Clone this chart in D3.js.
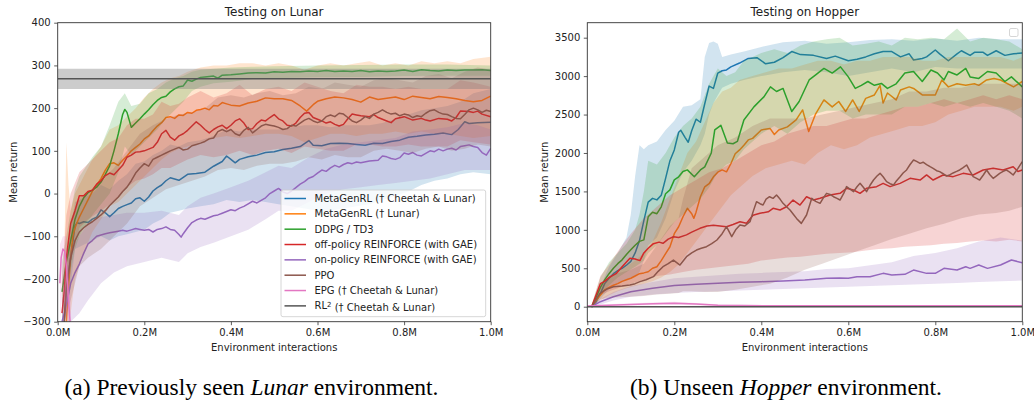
<!DOCTYPE html>
<html>
<head>
<meta charset="utf-8">
<script src="https://cdn.jsdelivr.net/npm/d3@7"></script>
<style>
body { margin: 0; background: #fff; }
svg text { font-family: "DejaVu Sans", sans-serif; fill: #222; }
svg text.caption { font-family: "Liberation Serif", serif; fill: #000; }
</style>
</head>
<body>
<svg id="chart" width="1034" height="402"></svg>
<script>
// legend + colours (matplotlib tab10 order)
var seriesNames = ['MetaGenRL († Cheetah & Lunar)', 'MetaGenRL († Lunar)', 'DDPG / TD3',
  'off-policy REINFORCE (with GAE)', 'on-policy REINFORCE (with GAE)', 'PPO', 'EPG († Cheetah & Lunar)', 'RL2'];
var seriesColors = ['#1f77b4', '#ff7f0e', '#2ca02c', '#d62728', '#9467bd', '#8c564b', '#e377c2', '#555555'];

var xTicks = [0, 0.2, 0.4, 0.6, 0.8, 1.0];
var lunarYTicks = [-300, -200, -100, 0, 100, 200, 300, 400];
var hopperYTicks = [0, 500, 1000, 1500, 2000, 2500, 3000, 3500];

// ---------- Testing on Lunar : [x (M), mean] and [x, low, high] ----------
var lunarBlue = [[0.015,-300],[0.02,-230],[0.03,-150],[0.04,-75],[0.045,-68],[0.05,-70],[0.06,-66],[0.07,-68],[0.08,-60],[0.09,-55],[0.10,-38],[0.11,-45],[0.12,-54],[0.13,-45],[0.14,-35],[0.15,-30],[0.16,-26],[0.17,-22],[0.18,-12],[0.19,-10],[0.20,-18],[0.21,-8],[0.22,6],[0.23,14],[0.24,20],[0.25,30],[0.26,37],[0.27,34],[0.28,31],[0.29,38],[0.30,45],[0.32,47],[0.34,50],[0.36,64],[0.38,75],[0.39,88],[0.40,80],[0.41,72],[0.42,80],[0.44,86],[0.46,90],[0.48,96],[0.50,98],[0.52,103],[0.54,106],[0.56,110],[0.58,124],[0.59,113],[0.61,112],[0.63,117],[0.65,118],[0.67,117],[0.69,115],[0.71,113],[0.73,118],[0.75,117],[0.77,122],[0.79,125],[0.81,132],[0.83,134],[0.85,137],[0.87,139],[0.89,142],[0.91,138],[0.925,150],[0.94,168],[0.95,164],[0.97,166],[1.0,167]];
var lunarBlueBand = [[0.02,-300,-150],[0.04,-130,-20],[0.06,-120,-10],[0.08,-110,0],[0.10,-100,20],[0.12,-110,10],[0.14,-100,30],[0.16,-95,45],[0.18,-90,70],[0.20,-85,75],[0.22,-70,90],[0.24,-60,100],[0.26,-45,115],[0.28,-40,110],[0.30,-35,120],[0.33,-30,125],[0.36,-25,135],[0.39,-15,150],[0.42,-20,145],[0.45,-15,150],[0.48,-20,150],[0.51,-25,150],[0.54,-30,155],[0.57,-35,160],[0.60,-40,160],[0.63,-40,155],[0.66,-35,160],[0.69,-30,160],[0.72,-25,160],[0.75,-15,165],[0.78,-5,175],[0.81,5,185],[0.84,20,195],[0.87,30,200],[0.90,35,205],[0.93,45,215],[0.96,50,235],[1.0,45,245]];

var lunarOrange = [[0.02,-300],[0.025,-220],[0.03,-150],[0.035,-100],[0.04,-80],[0.05,-55],[0.06,-35],[0.07,-15],[0.08,5],[0.09,20],[0.10,35],[0.11,55],[0.12,70],[0.13,72],[0.14,66],[0.15,78],[0.16,88],[0.17,100],[0.18,108],[0.19,116],[0.20,128],[0.21,135],[0.22,147],[0.23,158],[0.24,166],[0.25,178],[0.26,180],[0.27,176],[0.28,184],[0.29,183],[0.30,190],[0.31,188],[0.32,195],[0.33,197],[0.34,200],[0.35,196],[0.36,206],[0.37,205],[0.38,213],[0.39,210],[0.40,207],[0.42,205],[0.44,212],[0.46,216],[0.48,224],[0.50,222],[0.52,222],[0.54,218],[0.56,205],[0.575,193],[0.59,208],[0.60,216],[0.62,222],[0.64,226],[0.66,224],[0.68,220],[0.70,214],[0.72,226],[0.74,220],[0.76,223],[0.78,226],[0.80,220],[0.82,228],[0.84,225],[0.86,222],[0.88,227],[0.90,225],[0.92,222],[0.94,218],[0.96,215],[0.98,218],[1.0,228]];
var lunarOrangeBand = [[0.015,-300,-150],[0.02,-300,120],[0.025,-300,20],[0.03,-280,-40],[0.04,-200,0],[0.06,-140,40],[0.08,-90,80],[0.10,-60,110],[0.12,-30,150],[0.14,-20,160],[0.16,0,180],[0.18,20,200],[0.20,40,225],[0.22,60,245],[0.24,80,260],[0.26,95,270],[0.28,105,275],[0.30,110,285],[0.33,120,295],[0.36,130,300],[0.39,135,300],[0.42,130,305],[0.45,135,305],[0.48,140,300],[0.51,140,305],[0.54,135,300],[0.57,120,290],[0.60,130,300],[0.63,140,305],[0.66,140,300],[0.69,135,305],[0.72,140,310],[0.75,140,300],[0.78,145,305],[0.81,140,300],[0.84,145,310],[0.87,140,305],[0.90,140,310],[0.93,135,305],[0.96,130,315],[1.0,135,320]];

var lunarGreen = [[0.01,-230],[0.02,-160],[0.03,-110],[0.04,-60],[0.05,-30],[0.06,-10],[0.07,2],[0.08,8],[0.09,15],[0.10,27],[0.11,45],[0.12,65],[0.13,100],[0.14,140],[0.15,185],[0.155,197],[0.16,190],[0.17,155],[0.18,165],[0.19,175],[0.20,186],[0.21,196],[0.22,208],[0.23,218],[0.24,225],[0.25,228],[0.26,238],[0.27,245],[0.28,250],[0.29,252],[0.30,266],[0.31,263],[0.32,268],[0.33,272],[0.34,273],[0.36,275],[0.37,270],[0.38,277],[0.40,278],[0.42,280],[0.44,282],[0.46,283],[0.48,282],[0.50,285],[0.52,284],[0.54,286],[0.56,285],[0.58,287],[0.60,286],[0.62,288],[0.64,286],[0.66,287],[0.68,286],[0.70,288],[0.72,285],[0.74,287],[0.76,286],[0.78,287],[0.80,289],[0.82,286],[0.84,290],[0.86,288],[0.88,287],[0.90,289],[0.92,288],[0.94,289],[0.96,289],[0.98,290],[1.0,288]];
var lunarGreenBand = [[0.01,-300,-160],[0.02,-240,-100],[0.03,-180,-40],[0.04,-130,10],[0.05,-100,40],[0.06,-80,55],[0.08,-50,85],[0.10,-25,110],[0.12,0,160],[0.14,50,215],[0.155,110,235],[0.17,90,205],[0.19,110,210],[0.21,130,235],[0.23,150,245],[0.25,175,260],[0.27,195,270],[0.29,215,275],[0.31,240,285],[0.33,250,290],[0.36,258,292],[0.40,262,295],[0.45,268,297],[0.50,270,298],[0.60,272,300],[0.70,273,301],[0.80,275,302],[0.90,276,302],[1.0,276,300]];

var lunarRed = [[0.01,-280],[0.015,-230],[0.02,-150],[0.025,-110],[0.03,-70],[0.04,-40],[0.05,-5],[0.06,-5],[0.07,5],[0.08,8],[0.09,22],[0.10,30],[0.11,42],[0.12,48],[0.13,44],[0.14,55],[0.15,66],[0.16,85],[0.17,90],[0.18,97],[0.19,98],[0.20,100],[0.21,104],[0.22,108],[0.23,120],[0.24,140],[0.25,148],[0.26,132],[0.27,125],[0.28,135],[0.29,140],[0.30,148],[0.31,158],[0.32,168],[0.33,160],[0.34,150],[0.35,142],[0.36,150],[0.37,156],[0.38,160],[0.39,152],[0.40,160],[0.41,170],[0.42,175],[0.43,165],[0.44,150],[0.45,152],[0.46,164],[0.47,172],[0.48,170],[0.49,178],[0.50,185],[0.51,175],[0.52,170],[0.53,160],[0.54,158],[0.55,165],[0.56,178],[0.57,188],[0.58,190],[0.59,178],[0.60,174],[0.61,170],[0.62,165],[0.63,168],[0.64,162],[0.65,158],[0.66,162],[0.67,175],[0.68,186],[0.69,184],[0.70,182],[0.72,180],[0.73,185],[0.74,178],[0.76,170],[0.77,166],[0.78,175],[0.80,180],[0.81,176],[0.82,172],[0.84,176],[0.85,172],[0.86,170],[0.88,176],[0.90,174],[0.91,170],[0.92,178],[0.93,193],[0.95,192],[0.96,190],[0.97,193],[0.98,186],[1.0,180]];
var lunarRedBand = [[0.01,-300,-200],[0.02,-250,-50],[0.03,-160,0],[0.05,-80,50],[0.07,-60,70],[0.10,-40,100],[0.12,-25,120],[0.14,-10,130],[0.16,15,160],[0.18,30,175],[0.20,35,175],[0.22,45,185],[0.24,60,215],[0.26,60,205],[0.28,70,210],[0.30,80,225],[0.33,90,240],[0.36,85,225],[0.39,90,235],[0.42,100,255],[0.45,90,230],[0.48,100,245],[0.51,105,250],[0.54,95,240],[0.57,110,260],[0.60,105,250],[0.63,100,240],[0.66,100,235],[0.69,115,255],[0.72,115,250],[0.75,110,250],[0.78,110,245],[0.81,115,250],[0.84,110,245],[0.87,110,245],[0.90,110,245],[0.93,125,265],[0.96,120,260],[1.0,115,250]];

var lunarPurple = [[0.01,-300],[0.02,-260],[0.03,-210],[0.04,-185],[0.05,-165],[0.06,-140],[0.07,-118],[0.08,-110],[0.09,-100],[0.10,-97],[0.11,-94],[0.12,-92],[0.13,-90],[0.14,-88],[0.15,-86],[0.16,-88],[0.17,-85],[0.18,-82],[0.19,-84],[0.20,-86],[0.21,-84],[0.22,-90],[0.23,-84],[0.24,-82],[0.25,-78],[0.26,-84],[0.27,-86],[0.28,-96],[0.285,-102],[0.29,-94],[0.30,-80],[0.31,-68],[0.32,-62],[0.33,-58],[0.34,-60],[0.35,-56],[0.36,-52],[0.37,-50],[0.38,-46],[0.39,-42],[0.40,-38],[0.41,-40],[0.42,-34],[0.43,-30],[0.44,-24],[0.45,-18],[0.46,-22],[0.47,-16],[0.48,-10],[0.49,0],[0.50,6],[0.51,12],[0.52,4],[0.53,0],[0.54,6],[0.55,14],[0.56,22],[0.57,28],[0.58,36],[0.59,40],[0.60,48],[0.61,55],[0.62,52],[0.63,60],[0.64,66],[0.65,62],[0.66,68],[0.67,72],[0.68,70],[0.69,74],[0.70,72],[0.72,76],[0.74,78],[0.75,88],[0.76,86],[0.77,82],[0.78,80],[0.79,84],[0.80,95],[0.81,92],[0.82,96],[0.83,90],[0.84,88],[0.85,94],[0.86,100],[0.87,98],[0.88,104],[0.89,100],[0.90,104],[0.91,106],[0.92,102],[0.93,110],[0.94,112],[0.95,114],[0.96,110],[0.97,108],[0.98,96],[0.99,90],[1.0,106]];
var lunarPurpleBand = [[0.01,-300,-250],[0.03,-300,-130],[0.05,-280,-100],[0.07,-250,-70],[0.10,-210,-55],[0.13,-185,-50],[0.16,-170,-45],[0.20,-160,-45],[0.24,-150,-40],[0.28,-160,-50],[0.30,-140,-30],[0.33,-125,-10],[0.36,-115,0],[0.40,-100,15],[0.44,-85,30],[0.48,-60,50],[0.51,-40,65],[0.54,-40,60],[0.58,-20,85],[0.62,0,105],[0.66,10,115],[0.70,15,120],[0.74,20,125],[0.78,25,130],[0.82,30,145],[0.86,35,150],[0.90,45,155],[0.94,55,165],[0.97,55,160],[1.0,55,150]];

var lunarBrown = [[0.015,-300],[0.02,-220],[0.03,-150],[0.04,-110],[0.05,-90],[0.06,-80],[0.07,-72],[0.08,-66],[0.09,-58],[0.10,-50],[0.11,-40],[0.12,-28],[0.13,-18],[0.14,-8],[0.15,5],[0.16,15],[0.17,30],[0.18,48],[0.19,60],[0.20,70],[0.21,64],[0.22,80],[0.23,85],[0.24,90],[0.25,95],[0.26,100],[0.27,104],[0.28,108],[0.29,102],[0.30,104],[0.31,112],[0.32,115],[0.33,118],[0.34,122],[0.35,128],[0.36,130],[0.37,145],[0.38,150],[0.39,145],[0.40,150],[0.41,140],[0.42,136],[0.43,148],[0.44,155],[0.45,142],[0.46,150],[0.47,158],[0.48,162],[0.49,160],[0.50,158],[0.51,155],[0.52,150],[0.53,152],[0.54,160],[0.55,158],[0.56,165],[0.57,172],[0.58,176],[0.59,170],[0.60,166],[0.61,170],[0.62,180],[0.63,184],[0.64,180],[0.65,188],[0.66,186],[0.67,178],[0.68,170],[0.69,166],[0.70,172],[0.71,180],[0.72,176],[0.73,186],[0.74,190],[0.75,196],[0.76,190],[0.77,186],[0.78,188],[0.79,182],[0.80,186],[0.81,184],[0.82,178],[0.83,182],[0.84,180],[0.85,188],[0.86,194],[0.87,196],[0.88,190],[0.89,186],[0.90,185],[0.91,180],[0.92,176],[0.93,175],[0.94,185],[0.95,196],[0.96,200],[0.97,196],[0.98,190],[0.99,195],[1.0,192]];
var lunarBrownBand = [[0.015,-300,-200],[0.03,-250,-60],[0.05,-170,-10],[0.07,-150,0],[0.10,-130,30],[0.13,-100,60],[0.16,-70,100],[0.19,-30,140],[0.22,-10,160],[0.25,10,175],[0.28,20,185],[0.31,30,190],[0.34,40,200],[0.37,55,225],[0.40,60,230],[0.43,55,225],[0.46,65,235],[0.49,70,240],[0.52,70,230],[0.55,75,235],[0.58,85,250],[0.61,80,245],[0.64,90,260],[0.67,85,255],[0.70,85,250],[0.73,100,265],[0.76,105,270],[0.79,100,265],[0.82,95,260],[0.85,105,275],[0.88,110,280],[0.91,100,270],[0.94,105,285],[0.97,115,295],[1.0,110,290]];

var lunarPink = [[0.005,-210],[0.008,-150],[0.012,-130],[0.016,-135],[0.02,-170],[0.025,-250],[0.03,-320]];
var lunarPinkBand = [[0.005,-300,-120],[0.012,-220,-100],[0.02,-280,-100],[0.03,-340,-250]];

var lunarRL2 = [[0,269],[1.0,269]];
var lunarRL2Band = [[0,245,292],[1.0,245,292]];

// ---------- Testing on Hopper ----------
var hopperBlue = [[0.01,0],[0.02,60],[0.03,170],[0.04,300],[0.05,370],[0.06,430],[0.07,470],[0.08,500],[0.09,540],[0.10,590],[0.11,700],[0.12,860],[0.13,1120],[0.14,1360],[0.15,1410],[0.16,1390],[0.17,1450],[0.18,1670],[0.19,1900],[0.20,2040],[0.21,2270],[0.215,2295],[0.225,2200],[0.232,2140],[0.24,2290],[0.25,2440],[0.26,2400],[0.27,2640],[0.28,2870],[0.29,2840],[0.30,3040],[0.31,3070],[0.32,3080],[0.33,3120],[0.35,3170],[0.37,3230],[0.39,3240],[0.41,3160],[0.43,3180],[0.45,3240],[0.47,3320],[0.49,3280],[0.52,3270],[0.55,3230],[0.57,3260],[0.60,3200],[0.62,3220],[0.64,3250],[0.66,3290],[0.68,3320],[0.70,3320],[0.72,3250],[0.74,3290],[0.75,3210],[0.77,3230],[0.78,3250],[0.80,3340],[0.81,3290],[0.83,3200],[0.85,3290],[0.86,3330],[0.88,3270],[0.89,3310],[0.91,3310],[0.92,3270],[0.94,3330],[0.96,3270],[0.98,3290],[1.0,3300]];
var hopperBlueBand = [[0.01,-20,20],[0.03,100,260],[0.05,230,520],[0.07,300,700],[0.09,350,900],[0.10,380,1200],[0.11,400,1700],[0.12,450,2100],[0.13,600,2050],[0.14,800,2100],[0.16,900,2150],[0.18,1150,2300],[0.20,1500,2420],[0.22,1750,2600],[0.24,1900,2620],[0.26,2100,2700],[0.27,2250,3250],[0.28,2500,3430],[0.29,2650,3450],[0.30,2750,3420],[0.31,2850,3250],[0.33,2900,3280],[0.36,2950,3320],[0.40,3000,3380],[0.45,3050,3440],[0.50,3080,3460],[0.55,3050,3420],[0.60,3000,3440],[0.65,3050,3470],[0.70,3100,3480],[0.75,3050,3460],[0.80,3120,3490],[0.85,3100,3460],[0.90,3100,3500],[0.95,3100,3480],[1.0,3100,3480]];

var hopperOrange = [[0.01,0],[0.02,80],[0.03,150],[0.04,220],[0.05,250],[0.06,280],[0.07,300],[0.08,330],[0.09,350],[0.10,370],[0.11,400],[0.12,430],[0.13,440],[0.14,455],[0.15,500],[0.16,520],[0.17,600],[0.18,690],[0.19,780],[0.20,950],[0.21,1040],[0.22,1170],[0.23,1280],[0.24,1210],[0.245,1150],[0.25,1230],[0.26,1430],[0.27,1560],[0.28,1600],[0.29,1690],[0.30,1750],[0.31,1780],[0.32,1755],[0.33,1860],[0.34,1990],[0.35,2040],[0.36,2100],[0.37,2170],[0.38,2190],[0.40,2300],[0.42,2320],[0.43,2240],[0.44,2300],[0.46,2340],[0.48,2430],[0.495,2560],[0.509,2280],[0.525,2510],[0.544,2690],[0.563,2600],[0.578,2670],[0.594,2540],[0.61,2690],[0.625,2540],[0.64,2710],[0.66,2755],[0.673,2880],[0.68,2650],[0.69,2780],[0.71,2690],[0.72,2820],[0.74,2860],[0.75,2840],[0.77,2755],[0.80,2755],[0.815,2950],[0.83,2860],[0.85,2900],[0.87,2880],[0.89,2900],[0.90,2880],[0.918,2950],[0.935,2970],[0.95,2950],[0.98,2860],[1.0,2930]];
var hopperOrangeBand = [[0.01,-20,20],[0.03,80,250],[0.05,150,380],[0.07,200,450],[0.09,240,520],[0.11,270,600],[0.13,300,700],[0.15,330,850],[0.17,380,1100],[0.19,450,1400],[0.21,550,1700],[0.23,700,2000],[0.25,850,2150],[0.27,1000,2400],[0.29,1150,2650],[0.31,1300,2800],[0.33,1450,2850],[0.35,1550,2950],[0.38,1700,3000],[0.41,1800,3050],[0.44,1850,3100],[0.47,1900,3100],[0.50,1850,3150],[0.53,2000,3200],[0.56,2100,3200],[0.59,2050,3150],[0.62,2100,3200],[0.65,2200,3200],[0.68,2250,3250],[0.71,2300,3250],[0.74,2350,3250],[0.77,2350,3200],[0.80,2400,3200],[0.83,2500,3250],[0.86,2550,3250],[0.89,2600,3250],[0.92,2600,3250],[0.95,2600,3250],[0.98,2550,3200],[1.0,2600,3250]];

var hopperGreen = [[0.01,0],[0.02,120],[0.03,250],[0.04,350],[0.05,430],[0.06,500],[0.07,560],[0.08,610],[0.09,680],[0.10,740],[0.11,800],[0.12,850],[0.13,870],[0.14,1170],[0.15,1230],[0.16,1210],[0.17,1300],[0.18,1470],[0.19,1520],[0.20,1650],[0.21,1690],[0.22,1760],[0.23,1780],[0.246,1690],[0.26,1780],[0.27,1820],[0.285,2000],[0.293,2300],[0.307,2360],[0.322,2130],[0.335,2120],[0.345,2150],[0.36,2430],[0.383,2600],[0.406,2730],[0.421,2860],[0.435,2800],[0.45,2840],[0.47,2540],[0.487,2670],[0.51,2950],[0.525,3015],[0.544,3100],[0.563,3040],[0.582,3120],[0.60,2990],[0.616,2840],[0.63,2880],[0.645,2930],[0.66,2880],[0.676,2905],[0.69,2840],[0.71,2900],[0.73,3040],[0.75,3060],[0.77,2930],[0.79,3080],[0.805,3040],[0.82,2950],[0.83,3060],[0.85,3015],[0.87,3100],[0.88,2990],[0.90,2970],[0.92,3060],[0.94,3040],[0.96,2930],[0.975,2990],[1.0,2860]];
var hopperGreenBand = [[0.01,-20,30],[0.03,150,380],[0.05,280,580],[0.07,380,700],[0.09,450,820],[0.11,520,1000],[0.12,560,1200],[0.13,600,1500],[0.14,700,1900],[0.16,800,1850],[0.18,950,2000],[0.20,1100,2200],[0.22,1200,2350],[0.24,1300,2450],[0.26,1400,2600],[0.28,1550,2900],[0.30,1750,3100],[0.32,1850,3000],[0.34,1900,3050],[0.36,2050,3200],[0.38,2150,3250],[0.40,2250,3300],[0.43,2350,3350],[0.46,2250,3300],[0.49,2400,3400],[0.52,2500,3450],[0.55,2550,3480],[0.58,2550,3500],[0.61,2450,3400],[0.64,2500,3420],[0.67,2500,3450],[0.70,2500,3400],[0.73,2600,3500],[0.76,2600,3480],[0.79,2650,3500],[0.82,2600,3480],[0.85,2650,3620],[0.88,2600,3450],[0.91,2650,3500],[0.94,2600,3480],[0.97,2550,3450],[1.0,2450,3350]];

var hopperRed = [[0.01,0],[0.02,150],[0.03,300],[0.04,330],[0.05,380],[0.067,434],[0.08,520],[0.098,630],[0.11,620],[0.121,600],[0.13,700],[0.14,760],[0.152,820],[0.165,840],[0.174,825],[0.186,880],[0.198,910],[0.21,900],[0.228,935],[0.24,970],[0.259,1020],[0.275,1050],[0.29,1060],[0.305,1050],[0.32,1040],[0.335,1070],[0.351,1105],[0.366,1085],[0.381,1190],[0.397,1215],[0.416,1235],[0.427,1280],[0.443,1258],[0.458,1300],[0.473,1388],[0.489,1323],[0.504,1430],[0.52,1388],[0.535,1410],[0.558,1453],[0.581,1475],[0.596,1540],[0.612,1518],[0.627,1475],[0.642,1540],[0.665,1562],[0.68,1605],[0.696,1562],[0.719,1605],[0.742,1670],[0.765,1648],[0.78,1714],[0.795,1648],[0.818,1714],[0.841,1692],[0.864,1735],[0.887,1714],[0.91,1779],[0.933,1800],[0.956,1779],[0.979,1822],[0.99,1760],[1.0,1779]];
var hopperRedBand = [[0.01,-20,20],[0.03,150,400],[0.05,200,550],[0.08,260,800],[0.10,300,950],[0.13,350,1150],[0.16,400,1300],[0.19,420,1450],[0.22,450,1550],[0.25,480,1650],[0.28,500,1750],[0.31,520,1800],[0.34,540,1900],[0.37,560,2000],[0.40,600,2100],[0.43,620,2150],[0.46,640,2250],[0.49,650,2300],[0.52,670,2350],[0.55,690,2350],[0.58,700,2400],[0.61,710,2450],[0.64,730,2450],[0.67,750,2500],[0.70,760,2550],[0.73,780,2600],[0.76,790,2600],[0.79,800,2650],[0.82,820,2700],[0.85,830,2650],[0.88,850,2700],[0.91,860,2750],[0.94,850,2700],[0.97,870,2750],[1.0,850,2700]];

var hopperPurple = [[0.01,0],[0.03,65],[0.06,130],[0.10,195],[0.15,240],[0.20,275],[0.25,292],[0.30,304],[0.35,317],[0.40,326],[0.45,334],[0.50,347],[0.53,360],[0.55,369],[0.58,372],[0.60,369],[0.62,391],[0.65,391],[0.68,434],[0.70,412],[0.73,421],[0.75,477],[0.78,434],[0.80,434],[0.82,499],[0.85,477],[0.87,520],[0.88,499],[0.90,542],[0.92,499],[0.95,542],[0.975,607],[1.0,573]];
var hopperPurpleBand = [[0.01,-10,10],[0.03,30,100],[0.06,80,190],[0.10,130,270],[0.15,160,320],[0.20,180,370],[0.25,190,390],[0.30,200,410],[0.35,210,430],[0.40,220,440],[0.45,230,450],[0.50,240,460],[0.55,250,490],[0.60,260,500],[0.65,270,540],[0.70,280,580],[0.75,290,660],[0.80,300,700],[0.85,310,760],[0.90,320,850],[0.95,330,900],[1.0,340,860]];

var hopperBrown = [[0.01,0],[0.029,174],[0.045,230],[0.06,260],[0.08,270],[0.098,282],[0.11,300],[0.121,326],[0.135,350],[0.152,391],[0.163,460],[0.174,521],[0.186,560],[0.198,607],[0.213,542],[0.228,651],[0.24,700],[0.251,737],[0.262,760],[0.274,781],[0.286,820],[0.298,868],[0.31,950],[0.32,1041],[0.332,911],[0.341,1000],[0.351,1062],[0.362,1050],[0.374,1106],[0.382,1250],[0.389,1366],[0.397,1340],[0.404,1323],[0.411,1400],[0.419,1431],[0.427,1410],[0.435,1453],[0.443,1400],[0.45,1345],[0.458,1300],[0.466,1258],[0.474,1200],[0.481,1149],[0.492,1084],[0.504,1193],[0.516,1410],[0.525,1370],[0.535,1345],[0.543,1420],[0.55,1475],[0.558,1460],[0.566,1431],[0.574,1410],[0.581,1388],[0.59,1480],[0.596,1562],[0.604,1530],[0.612,1497],[0.62,1560],[0.627,1605],[0.635,1550],[0.642,1497],[0.65,1580],[0.658,1648],[0.666,1700],[0.673,1735],[0.68,1690],[0.688,1627],[0.696,1600],[0.704,1583],[0.711,1640],[0.719,1692],[0.726,1740],[0.734,1779],[0.742,1850],[0.75,1909],[0.757,1890],[0.765,1865],[0.772,1880],[0.78,1850],[0.788,1822],[0.795,1800],[0.803,1770],[0.81,1757],[0.818,1730],[0.826,1700],[0.833,1714],[0.841,1740],[0.849,1760],[0.856,1779],[0.864,1810],[0.872,1844],[0.879,1770],[0.887,1692],[0.895,1670],[0.902,1648],[0.91,1710],[0.918,1779],[0.925,1720],[0.933,1670],[0.94,1700],[0.948,1735],[0.956,1760],[0.963,1779],[0.971,1750],[0.979,1714],[0.99,1800],[1.0,1887]];
var hopperBrownBand = [[0.01,-20,20],[0.03,100,280],[0.06,120,420],[0.10,130,480],[0.13,140,560],[0.16,160,800],[0.19,170,1050],[0.21,180,1150],[0.22,200,1400],[0.24,200,1800],[0.27,190,1950],[0.30,190,2100],[0.34,220,2200],[0.38,260,2350],[0.42,300,2450],[0.46,380,2450],[0.50,480,2450],[0.54,560,2500],[0.58,640,2550],[0.62,720,2600],[0.66,800,2650],[0.70,880,2700],[0.74,950,2800],[0.78,1020,2800],[0.82,1080,2850],[0.86,1150,2850],[0.90,1200,2900],[0.94,1220,2900],[0.97,1250,2900],[1.0,1300,2900]];

var hopperPink = [[0.0,10],[0.05,20],[0.10,30],[0.15,38],[0.20,45],[0.25,35],[0.30,20],[0.35,15],[0.45,12],[0.6,12],[0.8,12],[1.0,12]];
var hopperPinkBand = [[0.0,0,20],[0.10,15,45],[0.20,25,65],[0.30,8,32],[0.45,4,20],[1.0,4,20]];

var hopperRL2 = [[0,0],[1.0,0]];
var hopperRL2Band = [[0,-6,6],[1.0,-6,6]];

var svg = d3.select('#chart');

var area = function(x, y) {
	return d3.area().x(function(d) { return x(d[0]); })
		.y0(function(d) { return y(d[1]); })
		.y1(function(d) { return y(d[2]); });
};
var line = function(x, y) {
	return d3.line().x(function(d) { return x(d[0]); })
		.y(function(d) { return y(d[1]); });
};

function drawPanel(p) {
	var x = d3.scaleLinear().domain([0, 1]).range([p.left, p.right]);
	var y = d3.scaleLinear().domain(p.yDomain).range([p.bottom, p.top]);

	svg.append('clipPath').attr('id', 'clip-' + p.id)
		.append('rect')
		.attr('x', p.left).attr('y', p.top)
		.attr('width', p.right - p.left).attr('height', p.bottom - p.top);

	var plot = svg.append('g').attr('clip-path', 'url(#clip-' + p.id + ')');

	p.series.forEach(function(s, i) {
		plot.append('path')
			.attr('d', area(x, y)(s.band))
			.style('fill', i === 7 ? '#7f7f7f' : seriesColors[i])
			.style('opacity', i === 7 ? 0.4 : 0.2);
		plot.append('path')
			.attr('d', line(x, y)(s.line))
			.style('fill', 'none')
			.style('stroke', seriesColors[i])
			.style('stroke-width', 1.5)
			.style('stroke-linejoin', 'round');
	});

	// axes
	var xAxis = d3.axisBottom(x).tickValues(xTicks)
		.tickFormat(function(d) { return d.toFixed(1) + 'M'; })
		.tickSize(3.5).tickPadding(3.5);
	var yAxis = d3.axisLeft(y).tickValues(p.yTicks)
		.tickFormat(d3.format('d'))
		.tickSize(3.5).tickPadding(3.5);

	var gx = svg.append('g').attr('transform', 'translate(0,' + p.bottom + ')').call(xAxis);
	var gy = svg.append('g').attr('transform', 'translate(' + p.left + ',0)').call(yAxis);
	[gx, gy].forEach(function(g) {
		g.select('.domain').remove();
		g.attr('font-family', null).attr('font-size', null);
		g.selectAll('.tick line').style('stroke', '#333').style('stroke-width', 0.8);
		g.selectAll('.tick text').style('font-size', '10px').style('fill', '#222');
	});

	// spines
	svg.append('rect')
		.attr('x', p.left).attr('y', p.top)
		.attr('width', p.right - p.left).attr('height', p.bottom - p.top)
		.style('fill', 'none').style('stroke', '#333').style('stroke-width', 0.9);

	svg.append('text')
		.attr('x', (p.left + p.right) / 2).attr('y', 16)
		.attr('text-anchor', 'middle')
		.style('font-size', '12px')
		.text(p.title);

	svg.append('text')
		.attr('x', (p.left + p.right) / 2).attr('y', 351)
		.attr('text-anchor', 'middle')
		.style('font-size', '10px')
		.text('Environment interactions');

	svg.append('text')
		.attr('transform', 'translate(' + p.yLabelX + ',' + ((p.top + p.bottom) / 2) + ') rotate(-90)')
		.attr('text-anchor', 'middle')
		.style('font-size', '10px')
		.text('Mean return');

	svg.append('text')
		.attr('class', 'caption')
		.attr('x', p.captionX).attr('y', 395)
		.attr('text-anchor', 'middle')
		.style('font-size', '23.5px')
		.call(function(t) {
			t.append('tspan').text(p.caption[0]);
			t.append('tspan').style('font-style', 'italic').text(p.caption[1]);
			t.append('tspan').text(p.caption[2]);
		});
}

drawPanel({
	id: 'lunar', title: 'Testing on Lunar',
	left: 57.7, right: 490.7, top: 22.7, bottom: 321.7,
	yDomain: [-300, 400], yTicks: lunarYTicks, yLabelX: 16.5,
	captionX: 251.5, caption: ['(a) Previously seen ', 'Lunar', ' environment.'],
	series: [
		{line: lunarBlue, band: lunarBlueBand},
		{line: lunarOrange, band: lunarOrangeBand},
		{line: lunarGreen, band: lunarGreenBand},
		{line: lunarRed, band: lunarRedBand},
		{line: lunarPurple, band: lunarPurpleBand},
		{line: lunarBrown, band: lunarBrownBand},
		{line: lunarPink, band: lunarPinkBand},
		{line: lunarRL2, band: lunarRL2Band}
	]
});

drawPanel({
	id: 'hopper', title: 'Testing on Hopper',
	left: 587.3, right: 1022.3, top: 22.7, bottom: 321.7,
	yDomain: [-195, 3695], yTicks: hopperYTicks, yLabelX: 547.5,
	captionX: 786, caption: ['(b) Unseen ', 'Hopper', ' environment.'],
	series: [
		{line: hopperBlue, band: hopperBlueBand},
		{line: hopperOrange, band: hopperOrangeBand},
		{line: hopperGreen, band: hopperGreenBand},
		{line: hopperRed, band: hopperRedBand},
		{line: hopperPurple, band: hopperPurpleBand},
		{line: hopperBrown, band: hopperBrownBand},
		{line: hopperPink, band: hopperPinkBand},
		{line: hopperRL2, band: hopperRL2Band}
	]
});

// legend (Lunar panel)
var legend = svg.append('g').attr('transform', 'translate(281,190)');
legend.append('rect')
	.attr('width', 204.7).attr('height', 126.7).attr('rx', 2)
	.style('fill', '#fff').style('fill-opacity', 0.8)
	.style('stroke', '#ccc').style('stroke-width', 0.8);
seriesNames.forEach(function(name, i) {
	var cy = 8.5 + i * 15.34;
	legend.append('line')
		.attr('x1', 3.5).attr('x2', 25).attr('y1', cy).attr('y2', cy)
		.style('stroke', seriesColors[i]).style('stroke-width', 1.5);
	var t = legend.append('text')
		.attr('x', 33.5).attr('y', cy).attr('dy', '0.35em')
		.style('font-size', '10px');
	if (name === 'RL2') {
		t.append('tspan').text('RL');
		t.append('tspan').attr('dy', '-0.4em').style('font-size', '7px').text('2');
		t.append('tspan').attr('dy', '0.4em').text(' († Cheetah & Lunar)');
	} else {
		t.text(name);
	}
});

// empty legend box in the Hopper panel
svg.append('rect')
	.attr('x', 1009.5).attr('y', 28.5).attr('width', 8.5).attr('height', 8)
	.attr('rx', 1.5)
	.style('fill', '#fff').style('stroke', '#ccc').style('stroke-width', 0.8);
</script>
</body>
</html>
